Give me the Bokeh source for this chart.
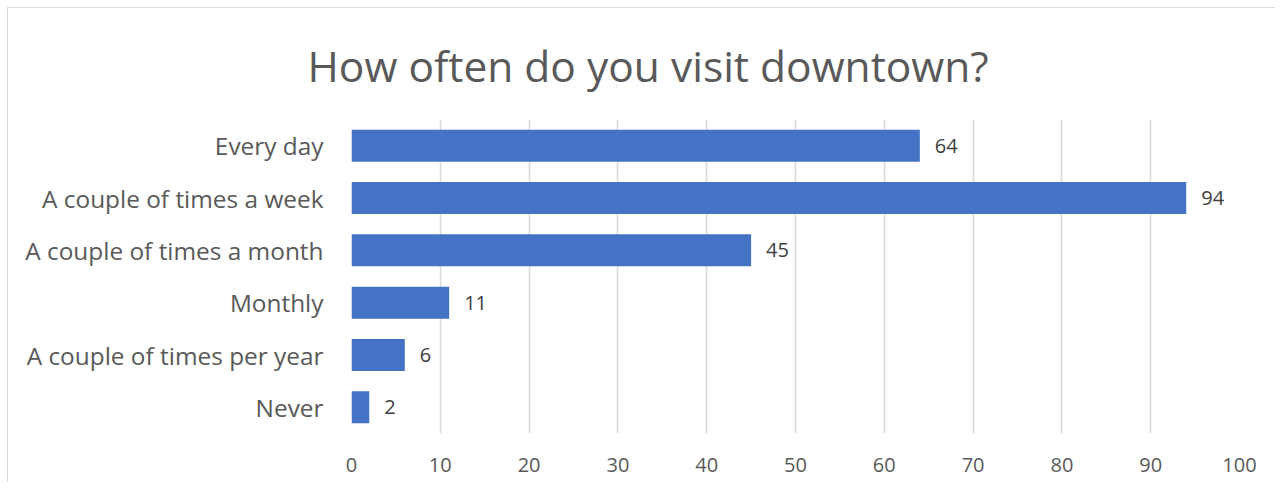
from bokeh.plotting import figure
from bokeh.models import ColumnDataSource, FixedTicker, LabelSet
from bokeh.core.properties import value
from bokeh.embed import file_html
from bokeh.resources import INLINE

title_text = "How often do you visit downtown?"
categories = ["Every day", "A couple of times a week", "A couple of times a month",
              "Monthly", "A couple of times per year", "Never"]
counts = [64, 94, 45, 11, 6, 2]
x_ticks = [0, 10, 20, 30, 40, 50, 60, 70, 80, 90, 100]

FONT = "Open Sans"
TXT = "#595959"

src = ColumnDataSource(dict(cat=categories, val=counts, lbl=[str(v) for v in counts]))

p = figure(width=1268, height=475, y_range=list(reversed(categories)), x_range=(0, 100),
           output_backend="svg", toolbar_location=None,
           min_border_left=343, min_border_right=37, min_border_top=111, min_border_bottom=50,
           title=title_text)
p.styles = {"border-left": "1px solid #d9d9d9", "border-top": "1px solid #d9d9d9",
            "margin-left": "7px", "margin-top": "7px"}

p.title.text_font = FONT
p.title.text_font_size = "42.5px"
p.title.text_font_style = "normal"
p.title.text_color = TXT
p.title.align = "left"
p.title.offset = -44
p.title.standoff = 52

p.hbar(y="cat", right="val", left=0, height=0.61, source=src,
       fill_color="#4472C4", line_color=None)

labels = LabelSet(x="val", y="cat", text="lbl", source=src, x_offset=15,
                  text_font=value(FONT), text_font_size=value("20px"), text_color="#404040",
                  text_baseline="middle", text_align="left")
p.add_layout(labels)

p.outline_line_color = None
p.ygrid.grid_line_color = None
p.xgrid.grid_line_color = "#D9D9D9"
p.xgrid.grid_line_width = 1.5
p.xaxis.ticker = FixedTicker(ticks=x_ticks)

for ax in (p.xaxis, p.yaxis):
    ax.axis_line_color = None
    ax.major_tick_line_color = None
    ax.minor_tick_line_color = None
    ax.major_label_text_font = FONT
    ax.major_label_text_color = TXT
p.xaxis.major_label_text_font_size = "20px"
p.xaxis.major_label_standoff = 18
p.yaxis.major_label_text_font_size = "24.4px"
p.yaxis.major_label_standoff = 22

open("out.html", "w").write(file_html(p, INLINE))
